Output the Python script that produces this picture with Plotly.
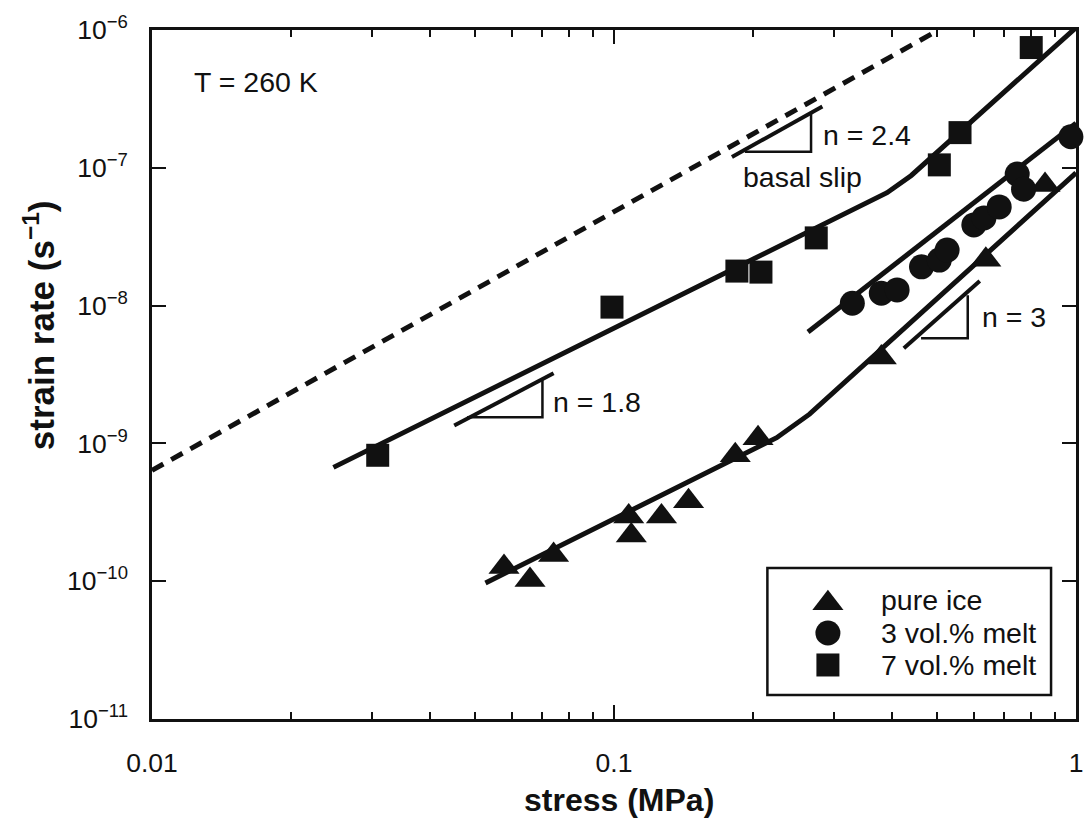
import numpy as np
import plotly.graph_objects as go

# ---------------- data ----------------
ice_stress = [0.0578, 0.0658, 0.0740, 0.1076, 0.109, 0.1267, 0.145, 0.183, 0.205, 0.379, 0.638, 0.857]
ice_rate = [1.27e-10, 1.02e-10, 1.55e-10, 2.95e-10, 2.15e-10, 2.95e-10, 3.8e-10, 8.2e-10, 1.09e-9, 4.2e-9, 2.15e-8, 7.5e-8]

melt3_stress = [0.328, 0.379, 0.410, 0.463, 0.506, 0.526, 0.601, 0.632, 0.682, 0.746, 0.770, 0.975]
melt3_rate = [1.04e-8, 1.23e-8, 1.30e-8, 1.91e-8, 2.14e-8, 2.53e-8, 3.85e-8, 4.33e-8, 5.2e-8, 9.0e-8, 7.0e-8, 1.68e-7]

melt7_stress = [0.0308, 0.099, 0.1845, 0.208, 0.274, 0.506, 0.561, 0.80]
melt7_rate = [8.2e-10, 9.75e-9, 1.78e-8, 1.75e-8, 3.1e-8, 1.05e-7, 1.8e-7, 7.46e-7]

fit_ice_stress = [0.0527, 0.225, 0.265, 1.0]
fit_ice_rate = [9.7e-11, 1.10e-9, 1.63e-9, 9.2e-8]

fit3_stress = [0.263, 1.0]
fit3_rate = [6.43e-9, 2.11e-7]

fit7_stress = [0.0247, 0.39, 0.44, 1.0]
fit7_rate = [6.7e-10, 6.6e-8, 8.8e-8, 1.04e-6]

basal_stress = [0.01, 0.504]
basal_rate = [6.37e-10, 1.0e-6]

# slope triangles (hypotenuse and legs)
n18_hyp_x, n18_hyp_y = [0.0451, 0.074], [1.35e-9, 3.23e-9]
n18_leg_x, n18_leg_y = [0.0481, 0.070, 0.070], [1.55e-9, 1.55e-9, 2.87e-9]
n24_hyp_x, n24_hyp_y = [0.180, 0.2825], [1.2e-7, 2.78e-7]
n24_leg_x, n24_leg_y = [0.192, 0.267, 0.267], [1.31e-7, 1.31e-7, 2.55e-7]
n3_hyp_x, n3_hyp_y = [0.424, 0.619], [4.91e-9, 1.51e-8]
n3_leg_x, n3_leg_y = [0.462, 0.583, 0.583], [5.8e-9, 5.8e-9, 1.19e-8]

x_tick_vals = [0.01, 0.1, 1]
x_tick_text = ["0.01", "0.1", "1"]
x_minor_vals = [0.02, 0.03, 0.04, 0.05, 0.06, 0.07, 0.08, 0.09, 0.2, 0.3, 0.4, 0.5, 0.6, 0.7, 0.8, 0.9]
y_tick_vals = [1e-11, 1e-10, 1e-9, 1e-8, 1e-7, 1e-6]
y_tick_text = ["10<sup>\u221211</sup>", "10<sup>\u221210</sup>", "10<sup>\u22129</sup>",
               "10<sup>\u22128</sup>", "10<sup>\u22127</sup>", "10<sup>\u22126</sup>"]

legend_labels = ["pure ice", "3 vol.% melt", "7 vol.% melt"]
legend_symbols = ["triangle-up", "circle", "square"]
legend_sizes = [27, 25, 23]

FONT = "Liberation Sans, Arial, Helvetica, sans-serif"
BLACK = "#111111"
TXT = 28.5

fig = go.Figure()

# fit lines
fig.add_trace(go.Scatter(x=basal_stress, y=basal_rate, mode="lines",
                         line=dict(color=BLACK, width=5, dash="13px,9px"), showlegend=False))
for xs, ys in [(fit_ice_stress, fit_ice_rate), (fit3_stress, fit3_rate), (fit7_stress, fit7_rate)]:
    fig.add_trace(go.Scatter(x=xs, y=ys, mode="lines", line=dict(color=BLACK, width=5),
                             showlegend=False))

# slope triangles
for xs, ys, w in [(n18_hyp_x, n18_hyp_y, 4), (n18_leg_x, n18_leg_y, 2.5),
                  (n24_hyp_x, n24_hyp_y, 4), (n24_leg_x, n24_leg_y, 2.5),
                  (n3_hyp_x, n3_hyp_y, 4), (n3_leg_x, n3_leg_y, 2.5)]:
    fig.add_trace(go.Scatter(x=xs, y=ys, mode="lines", line=dict(color=BLACK, width=w),
                             showlegend=False))

# data markers
for xs, ys, sym, sz, name in [(ice_stress, ice_rate, "triangle-up", 27, legend_labels[0]),
                              (melt3_stress, melt3_rate, "circle", 25, legend_labels[1]),
                              (melt7_stress, melt7_rate, "square", 23, legend_labels[2])]:
    fig.add_trace(go.Scatter(x=xs, y=ys, mode="markers", name=name,
                             marker=dict(symbol=sym, size=sz, color=BLACK, line=dict(width=0)),
                             showlegend=False, cliponaxis=False))

# custom legend on an overlay axis (0..1)
leg_x = 0.7315
leg_y = [0.168, 0.1248, 0.0784]
for i in range(3):
    fig.add_trace(go.Scatter(x=[leg_x], y=[leg_y[i]], mode="markers", xaxis="x2", yaxis="y2",
                             marker=dict(symbol=legend_symbols[i], size=legend_sizes[i], color=BLACK,
                                         line=dict(width=0)),
                             showlegend=False, hoverinfo="skip"))

annotations = []
for i in range(3):
    annotations.append(dict(x=0.787, y=[0.1727, 0.1248, 0.0784][i], xref="paper", yref="paper",
                            text=legend_labels[i], showarrow=False, xanchor="left", yanchor="middle",
                            font=dict(family=FONT, size=TXT, color=BLACK)))

def ann(x, y, text, xanchor="center", size=TXT):
    annotations.append(dict(x=x, y=y, xref="x", yref="y", text=text, showarrow=False,
                            xanchor=xanchor, yanchor="middle",
                            font=dict(family=FONT, size=size, color=BLACK)))

ann(np.log10(0.0122), np.log10(4.2e-7), "T = 260 K", xanchor="left")
ann(np.log10(0.0917), np.log10(2.0e-9), "n = 1.8")
ann(np.log10(0.352), np.log10(1.73e-7), "n = 2.4")
ann(np.log10(0.256), np.log10(8.57e-8), "basal slip")
ann(np.log10(0.733), np.log10(8.26e-9), "n = 3")

# axis titles
annotations.append(dict(x=0.505, y=-0.117, xref="paper", yref="paper", text="<b>stress (MPa)</b>",
                        showarrow=False, xanchor="center", yanchor="middle",
                        font=dict(family=FONT, size=32, color=BLACK)))
annotations.append(dict(x=-0.122, y=0.572, xref="paper", yref="paper",
                        text="<b>strain rate (s<sup>\u22121</sup>)</b>", textangle=-90,
                        showarrow=False, xanchor="center", yanchor="middle",
                        font=dict(family=FONT, size=35, color=BLACK)))

shapes = [dict(type="rect", xref="paper", yref="paper", x0=0.666, x1=0.973, y0=0.0348, y1=0.219,
               line=dict(color=BLACK, width=2.5), fillcolor="white", layer="below")]

fig.update_layout(
    width=1086, height=830,
    margin=dict(l=152, r=3, t=30, b=111),
    paper_bgcolor="white", plot_bgcolor="white",
    font=dict(family=FONT, size=26, color=BLACK),
    xaxis=dict(type="log", range=[-2, 0], tickvals=x_tick_vals, ticktext=x_tick_text,
               ticks="inside", ticklen=14, tickwidth=2, tickcolor=BLACK,
               minor=dict(tickvals=x_minor_vals, ticks="inside", ticklen=7, tickwidth=2,
                          tickcolor=BLACK, showgrid=False),
               showline=True, linecolor=BLACK, linewidth=2.5, mirror="allticks",
               showgrid=False, zeroline=False, ticklabelstandoff=18,
               ticklabeloverflow="allow",
               tickfont=dict(family=FONT, size=26.5, color=BLACK)),
    yaxis=dict(type="log", range=[-11, -6], tickvals=y_tick_vals, ticktext=y_tick_text,
               ticks="inside", ticklen=14, tickwidth=2, tickcolor=BLACK,
               showline=True, linecolor=BLACK, linewidth=2.5, mirror="allticks",
               showgrid=False, zeroline=False, ticklabelstandoff=16,
               ticklabeloverflow="allow",
               tickfont=dict(family=FONT, size=26.5, color=BLACK)),
    xaxis2=dict(overlaying="x", range=[0, 1], visible=False, fixedrange=True),
    yaxis2=dict(overlaying="y", range=[0, 1], visible=False, fixedrange=True, anchor="x2"),
    annotations=annotations,
    shapes=shapes,
    showlegend=False,
)

fig.write_html("out.html")
